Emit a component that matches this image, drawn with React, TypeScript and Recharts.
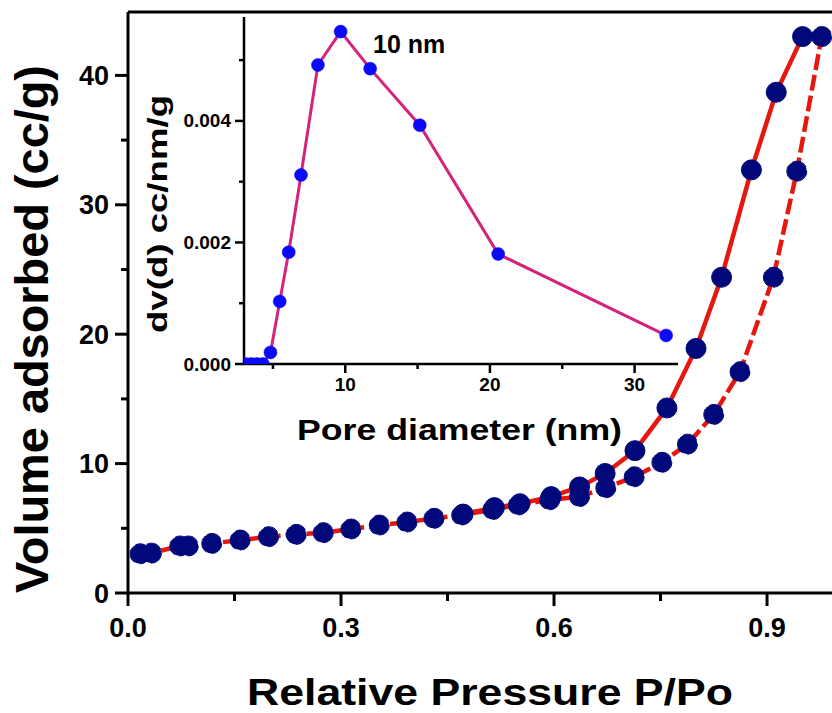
import React from 'react';
import { LineChart, Line, XAxis, YAxis, ReferenceLine } from 'recharts';

// ---- Main isotherm data ----
const adsP = [0.017, 0.033, 0.073, 0.085, 0.118, 0.158, 0.198, 0.237, 0.275, 0.314, 0.354, 0.393, 0.431, 0.470, 0.514, 0.550, 0.594, 0.636, 0.673, 0.713, 0.752, 0.788, 0.825, 0.862, 0.909, 0.942, 0.977];
const adsV = [3.03, 3.08, 3.63, 3.63, 3.83, 4.09, 4.35, 4.53, 4.66, 4.94, 5.25, 5.48, 5.77, 6.02, 6.45, 6.80, 7.2, 7.45, 8.13, 8.98, 10.1, 11.5, 13.8, 17.1, 24.4, 32.6, 43.0];
const desP = [0.950, 0.913, 0.878, 0.836, 0.800, 0.759, 0.714, 0.672, 0.636, 0.596, 0.552, 0.516, 0.472];
const desV = [43.0, 38.7, 32.7, 24.4, 18.9, 14.3, 11.0, 9.24, 8.2, 7.45, 6.9, 6.6, 6.1];

// ---- Inset pore size distribution data ----
const poreDiameter = [3.1, 3.5, 3.9, 4.3, 4.83, 5.47, 6.09, 6.94, 8.11, 9.68, 11.72, 15.15, 20.57, 32.18];
const poreVolume = [0, 0, 0, 0, 0.00019, 0.00103, 0.00184, 0.00311, 0.00492, 0.00547, 0.00486, 0.00393, 0.00181, 0.00047];

// ---- Ticks and labels ----
const mainXTicks = [0, 0.15, 0.3, 0.45, 0.6, 0.75, 0.9];
const mainYTicks = [0, 5, 10, 15, 20, 25, 30, 35, 40];
const insetXTicks = [5, 10, 15, 20, 25, 30];
const insetYTicks = [0, 0.001, 0.002, 0.003, 0.004, 0.005];
const mainXTitle = 'Relative Pressure P/Po';
const mainYTitle = 'Volume adsorbed (cc/g)';
const insetXTitle = 'Pore diameter (nm)';
const insetYTitle = 'dv(d) cc/nm/g';
const peakLabel = '10 nm';

const adsData = adsP.map((p, i) => ({ p, v: adsV[i] }));
const desData = desP.map((p, i) => ({ p, v: desV[i] }));
const insetData = poreDiameter.map((d, i) => ({ d, v: poreVolume[i] }));

const FONT = 'Liberation Sans, Arial, Helvetica, sans-serif';
const NAVY = '#00087a';
const RED = '#e5170f';
const PINK = '#d4237a';
const BLUE = '#0a0af5';

const isMult = (v: number, step: number) => Math.abs(v / step - Math.round(v / step)) < 1e-6;

const MainXTick = (props: any) => {
  const { x, y, payload } = props;
  const major = isMult(payload.value, 0.3);
  return (
    <g>
      <line x1={x} x2={x} y1={y} y2={y + (major ? 13 : 8)} stroke="#000" strokeWidth={3} />
      {major && (
        <text x={x} y={y + 44} textAnchor="middle" fontSize={27} fontWeight="bold" fontFamily={FONT} fill="#000">
          {payload.value.toFixed(1)}
        </text>
      )}
    </g>
  );
};

const MainYTick = (props: any) => {
  const { x, y, payload } = props;
  const major = isMult(payload.value, 10);
  return (
    <g>
      <line x1={x} x2={x - (major ? 13 : 7)} y1={y} y2={y} stroke="#000" strokeWidth={3} />
      {major && (
        <text x={x - 19} y={y + 9.5} textAnchor="end" fontSize={27} fontWeight="bold" fontFamily={FONT} fill="#000">
          {String(payload.value)}
        </text>
      )}
    </g>
  );
};

const InsetXTick = (props: any) => {
  const { x, y, payload } = props;
  const major = isMult(payload.value, 10);
  return (
    <g>
      <line x1={x} x2={x} y1={y} y2={y + (major ? 9 : 5)} stroke="#000" strokeWidth={2.5} />
      {major && (
        <text x={x} y={y + 27} textAnchor="middle" fontSize={19} fontWeight="bold" fontFamily={FONT} fill="#000">
          {String(payload.value)}
        </text>
      )}
    </g>
  );
};

const InsetYTick = (props: any) => {
  const { x, y, payload } = props;
  const major = isMult(payload.value, 0.002);
  return (
    <g>
      <line x1={x} x2={x - (major ? 9 : 5)} y1={y} y2={y} stroke="#000" strokeWidth={2.5} />
      {major && (
        <text x={x - 13} y={y + 6.5} textAnchor="end" fontSize={19} fontWeight="bold" fontFamily={FONT} fill="#000">
          {payload.value.toFixed(3)}
        </text>
      )}
    </g>
  );
};

const mainXLabel = () => (
  <text x={247} y={705} textAnchor="start" fontSize={37} fontWeight="bold" fontFamily={FONT} fill="#000"
    textLength={486} lengthAdjust="spacingAndGlyphs">
    {mainXTitle}
  </text>
);

const mainYLabel = () => (
  <text x={48} y={329} transform="rotate(-90 48 329)" textAnchor="middle" fontSize={46} fontWeight="bold"
    fontFamily={FONT} fill="#000" textLength={528} lengthAdjust="spacingAndGlyphs">
    {mainYTitle}
  </text>
);

const insetXLabel = () => (
  <g>
    <text x={167} y={440} textAnchor="start" fontSize={30} fontWeight="bold" fontFamily={FONT} fill="#000"
      textLength={325} lengthAdjust="spacingAndGlyphs">
      {insetXTitle}
    </text>
    <text x={243} y={53} textAnchor="start" fontSize={25} fontWeight="bold" fontFamily={FONT} fill="#000">
      {peakLabel}
    </text>
  </g>
);

const insetYLabel = () => (
  <text x={37} y={214} transform="rotate(-90 37 214)" textAnchor="middle" fontSize={28} fontWeight="bold"
    fontFamily={FONT} fill="#000" textLength={238} lengthAdjust="spacingAndGlyphs">
    {insetYTitle}
  </text>
);

export default function App() {
  return (
    <div style={{ position: 'absolute', left: 0, top: 0, width: 832, height: 713, background: '#fff', overflow: 'hidden' }}>
      <div style={{ position: 'absolute', left: 0, top: 0 }}>
        <LineChart width={832} height={713} margin={{ top: 12, right: 0, left: 0, bottom: 0 }}>
          <XAxis type="number" dataKey="p" domain={[0, 0.9915]} allowDataOverflow ticks={mainXTicks} interval={0}
            height={120} tickSize={0} tickMargin={0} tickLine={false}
            axisLine={{ stroke: '#000', strokeWidth: 3 }} tick={<MainXTick />} label={mainXLabel} />
          <YAxis type="number" dataKey="v" domain={[0, 44.9]} allowDataOverflow ticks={mainYTicks} interval={0}
            width={128} tickSize={0} tickMargin={0} tickLine={false}
            axisLine={{ stroke: '#000', strokeWidth: 3 }} tick={<MainYTick />} label={mainYLabel} />
          <ReferenceLine y={44.9} stroke="#000" strokeWidth={3} />
          <Line data={desData} dataKey="v" type="linear" stroke={RED} strokeWidth={4.5}
            dot={{ r: 10, fill: NAVY, stroke: NAVY, strokeWidth: 1 }} isAnimationActive={false} />
          <Line data={adsData} dataKey="v" type="linear" stroke={RED} strokeWidth={4.5} strokeDasharray="16 5"
            dot={{ r: 10, fill: NAVY, stroke: NAVY, strokeWidth: 1 }} isAnimationActive={false} />
        </LineChart>
      </div>
      <div style={{ position: 'absolute', left: 130, top: 0 }}>
        <LineChart width={560} height={460} margin={{ top: 17, right: 12, left: 0, bottom: 0 }}>
          <XAxis type="number" dataKey="d" domain={[3, 33]} allowDataOverflow ticks={insetXTicks} interval={0}
            height={96} tickSize={0} tickMargin={0} tickLine={false}
            axisLine={{ stroke: '#000', strokeWidth: 2.5 }} tick={<InsetXTick />} label={insetXLabel} />
          <YAxis type="number" dataKey="v" domain={[0, 0.00571]} allowDataOverflow ticks={insetYTicks} interval={0}
            width={114} tickSize={0} tickMargin={0} tickLine={false}
            axisLine={{ stroke: '#000', strokeWidth: 2.5 }} tick={<InsetYTick />} label={insetYLabel} />
          <Line data={insetData} dataKey="v" type="linear" stroke={PINK} strokeWidth={3}
            dot={{ r: 6.5, fill: BLUE, stroke: BLUE, strokeWidth: 0.5 }} isAnimationActive={false} />
        </LineChart>
      </div>
    </div>
  );
}
